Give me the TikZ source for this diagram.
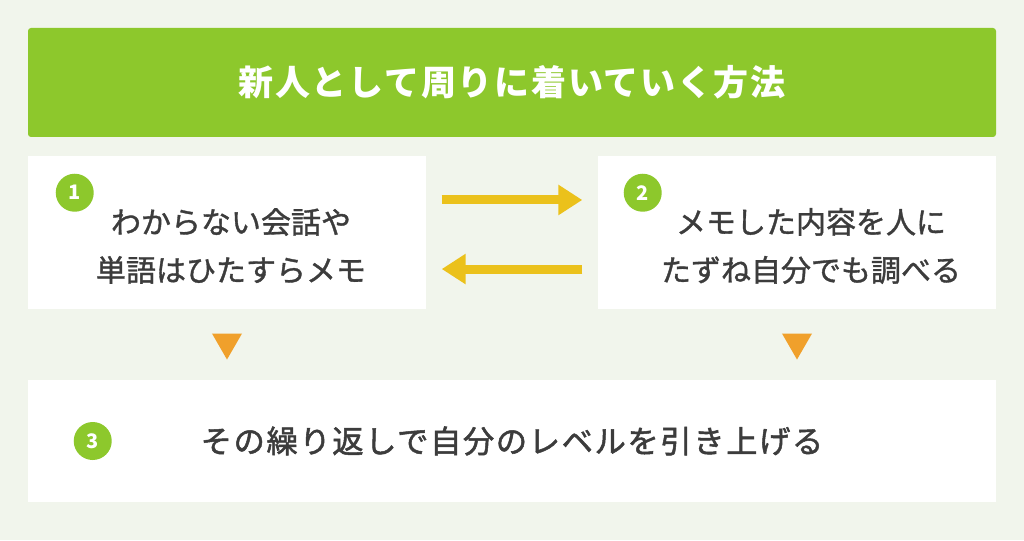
\documentclass[tikz,border=0pt]{standalone}
\usepackage{fontspec}
\setmainfont{Noto Sans CJK JP}
\usetikzlibrary{positioning,arrows.meta,shapes.geometric}
\definecolor{bgcol}{HTML}{F1F5EC}
\definecolor{headgreen}{HTML}{8DC82C}
\definecolor{flowyellow}{HTML}{EBC11B}
\definecolor{markorange}{HTML}{F0A02B}
\definecolor{textgray}{HTML}{3C3C3C}

\begin{document}
\begin{tikzpicture}[x=0.75pt,y=0.75pt,
 box/.style={fill=white,inner sep=0pt,minimum width=298.5pt,minimum height=114.75pt},
 widebox/.style={fill=white,inner sep=0pt,minimum width=726pt,minimum height=91.5pt},
 badge/.style={circle,fill=headgreen,text=white,inner sep=0pt,minimum size=28.5pt,font=\bfseries\fontsize{15}{15}\selectfont},
 body/.style={text=textgray,align=center,font=\fontsize{22.5}{36}\selectfont\addfontfeature{FakeBold=1.2}},
 flow/.style={draw=flowyellow,line width=6.75pt,-{Triangle[length=18pt,width=21.75pt]},shorten <=11.6pt,shorten >=11.6pt},
 downmark/.style={regular polygon,regular polygon sides=3,shape border rotate=180,fill=markorange,inner sep=0pt,minimum size=26pt}]
 \fill[bgcol] (0,0) rectangle (1024,540);
 \useasboundingbox (0,0) rectangle (1024,540);
 \node[fill=headgreen,rounded corners=2.25pt,minimum width=726pt,minimum height=81.75pt,text=white,font=\bfseries\fontsize{26.25}{30}\selectfont] (title) at (512,457.5) {\addfontfeature{LetterSpace=5}新人として周りに着いていく方法};
 \node[box] (b1) at (227,307.5) {};
 \node[box] (b2) at (797,307.5) {};
 \node[widebox] (b3) at (512,99) {};
 \node[badge] (n1) at ([xshift=35.25pt,yshift=-27.75pt]b1.north west) {1};
 \node[badge] (n2) at ([xshift=33.75pt,yshift=-27.75pt]b2.north west) {2};
 \node[badge] (n3) at ([xshift=48.75pt]b3.west) {3};
 \node[body] (t1) at (231,294) {わからない会話や\\単語はひたすらメモ};
 \node[body] (t2) at (811,294) {メモした内容を人に\\たずね自分でも調べる};
 \node[body,font=\fontsize{23.5}{36}\selectfont\addfontfeature{FakeBold=1.6}] (t3) at (512,99) {\addfontfeature{LetterSpace=5}その繰り返しで自分のレベルを引き上げる};
 \draw[flow] ([yshift=24.4pt]b1.east) -- ([yshift=24.4pt]b2.west);
 \draw[flow] ([yshift=-27.4pt]b2.west) -- ([yshift=-27.4pt]b1.east);
 \node[downmark,below=18pt of b1] (m1) {};
 \node[downmark,below=18pt of b2] (m2) {};
\end{tikzpicture}
\end{document}
